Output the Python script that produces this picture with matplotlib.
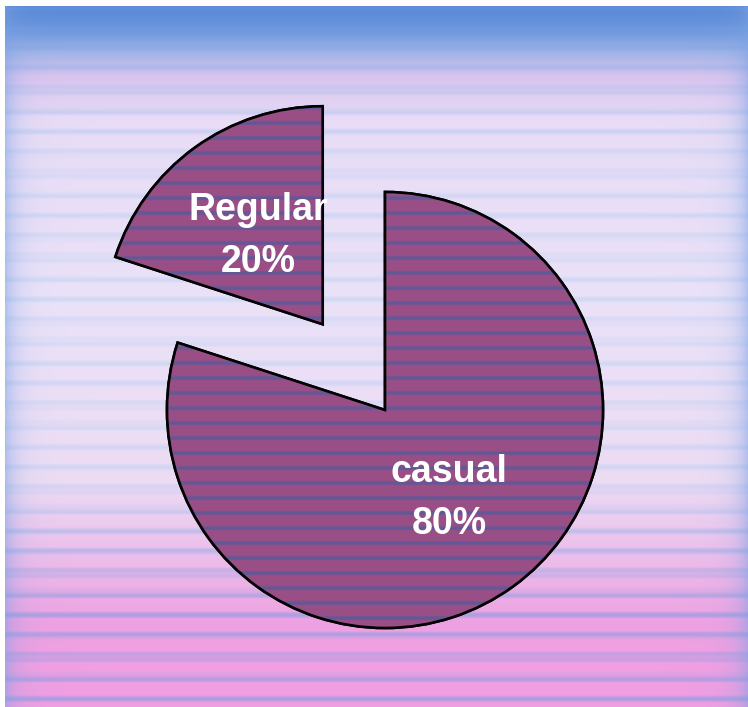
import numpy as np
import matplotlib
matplotlib.use("Agg")
import matplotlib.pyplot as plt
from matplotlib.colors import to_rgb
from matplotlib.patches import Wedge

# ---- data ----
categories = ["Regular", "casual"]
shares = [20, 80]
label_texts = [f"{c}\n{v}%" for c, v in zip(categories, shares)]

W, H = 748, 707
fig = plt.figure(figsize=(W / 100, H / 100), dpi=100)
ax = fig.add_axes([0, 0, 1, 1])

# ---- background: vertical gradient with horizontal brush stripes ----
yy = np.arange(H, dtype=float)
xx = np.arange(W, dtype=float)
keys_y = [6, 28, 50, 75, 120, 300, 480, 560, 620, 706]
keys_c = ["#5a88d6", "#6894dc", "#9cb2e6", "#d8c4ee", "#e8dcf6", "#eae2f8",
          "#ecdcf4", "#ecbcea", "#eea2e2", "#f09ee2"]
kc = np.array([to_rgb(c) for c in keys_c])
base = np.stack([np.interp(yy, keys_y, kc[:, i]) for i in range(3)], axis=1)

pattern = np.sin(2 * np.pi * yy / 21.0) + 0.4 * np.sin(2 * np.pi * yy / 9.3 + 1.0)
pattern = np.clip(pattern * 0.7, 0, 1)
amp = np.interp(yy, [0, 60, 150, 450, 560, 706], [0.35, 0.4, 0.4, 0.4, 0.65, 0.65])
s_keys_c = np.array([to_rgb(c) for c in ["#7ea2e4", "#b0caf0", "#b0caf0", "#8a9ce0"]])
s_keys_y = [40, 150, 480, 600]
stripe = np.stack([np.interp(yy, s_keys_y, s_keys_c[:, i]) for i in range(3)], axis=1)
wgt = (amp * pattern)[:, None]
rowcol = base * (1 - wgt) + stripe * wgt

bg = np.repeat(rowcol[:, None, :], W, axis=1)
edge = np.exp(-(xx - 5) / 12.0) + np.exp(-(W - 1 - xx) / 12.0)
edge = np.clip(edge, 0, 1) * 0.5
edge_col = np.array(to_rgb("#7aa2e4"))
bg = bg * (1 - edge[None, :, None]) + edge_col[None, None, :] * edge[None, :, None]
bg[:6, :, :] = 1.0
bg[:, :5, :] = 1.0

ax.imshow(bg, extent=(0, W, 0, H), origin="upper", aspect="auto", zorder=0,
          interpolation="bilinear")

# ---- pie ----
R = 218
cx, cy = 385, H - 410
wedges, texts = ax.pie(
    shares, labels=label_texts, startangle=90, counterclock=True,
    explode=[106, 0], radius=R, center=(cx, cy), labeldistance=0.5,
    colors=["#9a4e86", "#9a4e86"],
    wedgeprops=dict(edgecolor="black", linewidth=1.9),
    textprops=dict(ha="center", va="center", color="white", fontsize=27,
                   fontweight="bold", family="Liberation Sans", linespacing=1.55,
                   zorder=5),
)

# striped fill inside wedges
py = np.arange(H, dtype=float)
p2 = np.clip(np.sin(2 * np.pi * py / 15.0 + 0.5) * 1.8 - 0.8, 0, 1)
p2 = p2[:, None]
mauve = np.array(to_rgb("#9a4e86"))
blue = np.array(to_rgb("#625896"))
prow = mauve * (1 - p2) + blue * p2
pie_img = np.repeat(prow[:, None, :], W, axis=1)
for w in wedges:
    w.set_zorder(2)
    im = ax.imshow(pie_img, extent=(0, W, 0, H), origin="upper", aspect="auto",
                   zorder=3, interpolation="bilinear")
    im.set_clip_path(w)
    outline = Wedge(w.center, w.r, w.theta1, w.theta2, facecolor="none",
                    edgecolor="black", linewidth=1.9, zorder=4)
    ax.add_patch(outline)

ax.set_xlim(0, W)
ax.set_ylim(0, H)
ax.set_axis_off()

fig.savefig("out.png", dpi=100)
